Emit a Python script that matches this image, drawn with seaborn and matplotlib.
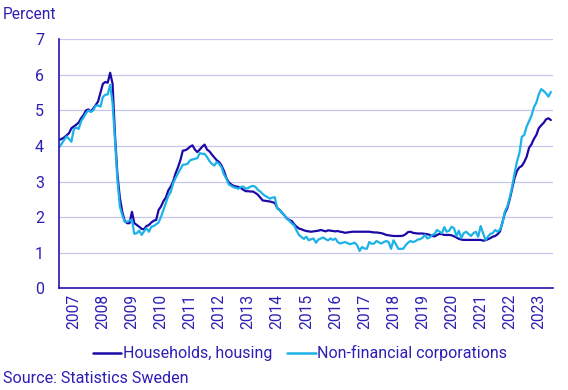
import numpy as np
import pandas as pd
import matplotlib
matplotlib.use("Agg")
import matplotlib.pyplot as plt
import seaborn as sns
from matplotlib.lines import Line2D

start_year = 2007
year_labels = [str(y) for y in range(2007, 2024)]
series_names = ["Households, housing", "Non-financial corporations"]

households = [
    4.17, 4.20, 4.24, 4.30, 4.36, 4.50, 4.55, 4.60, 4.66, 4.78, 4.87, 5.00,
    5.03, 4.97, 5.05, 5.15, 5.25, 5.50, 5.75, 5.80, 5.78, 6.06, 5.75, 4.30,
    3.20, 2.55, 2.15, 1.90, 1.83, 1.83, 2.15, 1.83, 1.78, 1.73, 1.67, 1.66,
    1.75, 1.78, 1.85, 1.90, 1.92, 2.20, 2.30, 2.45, 2.55, 2.75, 2.86, 3.00,
    3.23, 3.40, 3.60, 3.87, 3.88, 3.92, 3.98, 4.02, 3.90, 3.83, 3.90, 3.98,
    4.04, 3.90, 3.85, 3.76, 3.68, 3.60, 3.55, 3.45, 3.30, 3.10, 2.98, 2.92,
    2.88, 2.86, 2.85, 2.82, 2.77, 2.73, 2.73, 2.72, 2.72, 2.68, 2.63, 2.55,
    2.47, 2.46, 2.45, 2.44, 2.42, 2.40, 2.26, 2.20, 2.12, 2.05, 1.96, 1.92,
    1.89, 1.80, 1.73, 1.68, 1.66, 1.63, 1.61, 1.60, 1.59, 1.60, 1.61, 1.62,
    1.64, 1.62, 1.60, 1.63, 1.62, 1.61, 1.60, 1.61, 1.59, 1.58, 1.56, 1.57,
    1.58, 1.59, 1.59, 1.59, 1.59, 1.59, 1.59, 1.59, 1.59, 1.58, 1.57, 1.57,
    1.56, 1.55, 1.53, 1.50, 1.49, 1.48, 1.47, 1.47, 1.47, 1.47, 1.48, 1.52,
    1.58, 1.59, 1.56, 1.55, 1.54, 1.54, 1.54, 1.53, 1.52, 1.50, 1.47, 1.46,
    1.50, 1.53, 1.52, 1.50, 1.50, 1.50, 1.49, 1.46, 1.43, 1.39, 1.37, 1.36,
    1.36, 1.36, 1.36, 1.36, 1.36, 1.36, 1.36, 1.34, 1.35, 1.38, 1.41, 1.45,
    1.47, 1.52, 1.60, 1.85, 2.11, 2.25, 2.50, 2.80, 3.10, 3.30, 3.40, 3.44,
    3.55, 3.70, 3.95, 4.05, 4.20, 4.31, 4.50, 4.58, 4.65, 4.75, 4.78, 4.73,
]

corporations = [
    3.97, 4.07, 4.17, 4.27, 4.20, 4.12, 4.47, 4.52, 4.48, 4.70, 4.80, 4.92,
    5.00, 4.96, 5.00, 5.13, 5.14, 5.11, 5.38, 5.44, 5.45, 5.72, 5.20, 4.17,
    3.05, 2.30, 2.06, 1.87, 1.87, 1.90, 1.92, 1.53, 1.55, 1.62, 1.50, 1.60,
    1.69, 1.59, 1.73, 1.75, 1.80, 1.85, 2.01, 2.20, 2.40, 2.60, 2.70, 2.95,
    3.10, 3.23, 3.35, 3.47, 3.48, 3.50, 3.60, 3.62, 3.64, 3.66, 3.80, 3.78,
    3.78, 3.69, 3.58, 3.50, 3.45, 3.55, 3.50, 3.40, 3.20, 3.08, 2.92, 2.88,
    2.84, 2.82, 2.80, 2.85, 2.86, 2.80, 2.82, 2.86, 2.88, 2.85, 2.77, 2.72,
    2.65, 2.60, 2.56, 2.52, 2.55, 2.56, 2.24, 2.20, 2.12, 2.05, 1.95, 1.90,
    1.82, 1.77, 1.62, 1.50, 1.44, 1.39, 1.45, 1.35, 1.38, 1.40, 1.28, 1.37,
    1.40, 1.43, 1.38, 1.35, 1.40, 1.36, 1.40, 1.30, 1.26, 1.28, 1.30, 1.27,
    1.24, 1.26, 1.28, 1.21, 1.05, 1.16, 1.12, 1.11, 1.30, 1.25, 1.26, 1.33,
    1.29, 1.26, 1.30, 1.33, 1.30, 1.11, 1.35, 1.24, 1.11, 1.11, 1.11, 1.21,
    1.28, 1.33, 1.30, 1.32, 1.37, 1.38, 1.42, 1.50, 1.40, 1.43, 1.50, 1.53,
    1.64, 1.59, 1.55, 1.72, 1.59, 1.62, 1.73, 1.69, 1.47, 1.62, 1.41, 1.55,
    1.59, 1.53, 1.47, 1.55, 1.59, 1.45, 1.75, 1.55, 1.36, 1.45, 1.53, 1.55,
    1.64, 1.59, 1.65, 1.83, 2.16, 2.30, 2.55, 2.85, 3.23, 3.56, 3.80, 4.26,
    4.31, 4.55, 4.70, 4.85, 5.09, 5.22, 5.45, 5.60, 5.55, 5.48, 5.39, 5.52,
]

n = len(households)
time = start_year + np.arange(n) / 12.0
df = pd.DataFrame({
    "time": np.concatenate([time, time]),
    "value": households + corporations,
    "series": [series_names[0]] * n + [series_names[1]] * n,
})

sns.set_style("white")
plt.rcParams["font.family"] = ["Roboto", "DejaVu Sans"]

text_col = "#2c1fb4"
axis_col = "#2414b0"
dark_col = "#1c0aa8"
light_col = "#1cb2e8"
grid_col = "#c6c6ee"

fig = plt.figure(figsize=(5.68, 3.90), dpi=100)
ax = fig.add_axes([0.1044, 0.2608, 0.8697, 0.6384])

sns.lineplot(data=df, x="time", y="value", hue="series",
             palette=[dark_col, light_col], linewidth=1.6, ax=ax, legend=False)

ax.set_xlim(2007, 2024)
ax.set_ylim(0, 7)
ax.set_yticks(range(0, 8))
ax.yaxis.grid(True, color=grid_col, linewidth=0.9)
ax.xaxis.grid(False)
ax.set_axisbelow(True)

ax.set_xticks(np.arange(2007, 2025))
ax.set_xticklabels([])
ax.set_xticks(np.arange(2007, 2024) + 0.5, minor=True)
ax.set_xticklabels(year_labels, minor=True, rotation=90, fontsize=11.2, color=text_col)
ax.tick_params(axis="x", which="major", length=5, width=1, color=axis_col, direction="out")
ax.tick_params(axis="x", which="minor", length=0, pad=4)
ax.tick_params(axis="y", length=5, width=1, color=axis_col, labelsize=11.5,
               labelcolor=text_col, pad=6)
ax.set_yticklabels([str(v) for v in range(0, 8)])

for s in ["top", "right"]:
    ax.spines[s].set_visible(False)
for s in ["left", "bottom"]:
    ax.spines[s].set_color(axis_col)
    ax.spines[s].set_linewidth(1.2)

ax.set_xlabel("")
ax.set_ylabel("")

fig.text(0.005, 0.962, "Percent", fontsize=11.2, color=text_col, va="center", ha="left")
fig.text(0.005, 0.030, "Source: Statistics Sweden", fontsize=11.6, color=text_col,
         va="center", ha="left")

handles = [Line2D([0], [0], color=dark_col, linewidth=1.8),
           Line2D([0], [0], color=light_col, linewidth=1.8)]
fig.legend(handles, series_names, loc="center", bbox_to_anchor=(0.528, 0.094),
           ncol=2, frameon=False, fontsize=11.5, handlelength=1.8,
           handletextpad=0.1, columnspacing=0.9, labelcolor=text_col)

fig.savefig("out.png", dpi=100)
